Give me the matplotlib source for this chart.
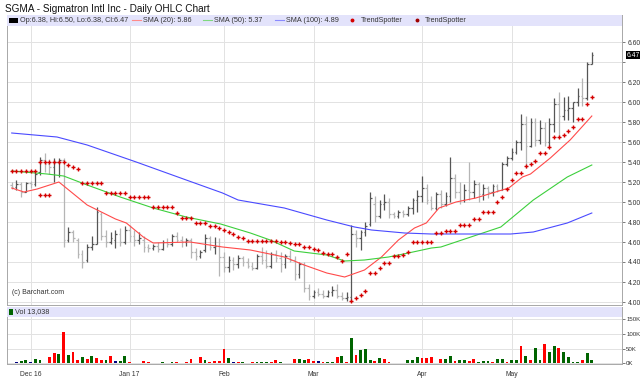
import matplotlib
matplotlib.use('Agg')
import matplotlib.pyplot as plt
from matplotlib.patches import Rectangle

plt.rcParams['font.family'] = ['Liberation Sans', 'DejaVu Sans']

# ---- data (index 0 = Nov 25 2016, one per trading day)
opens = [5.17, 5.15, 5.18, 5.10, 5.19, 5.18, 5.30, 5.42, 5.38, 5.35,
         5.40, 5.42, 4.62, 4.70, 4.62, 4.48, 4.42, 4.55, 4.58, 4.88,
         4.66, 4.60, 4.62, 4.68, 4.60, 4.72, 4.66, 4.62, 4.62, 4.55,
         4.54, 4.56, 4.53, 4.60, 4.58, 4.66, 4.62, 4.60, 4.62, 4.50,
         4.46, 4.52, 4.64, 4.55, 4.56, 4.45, 4.35, 4.42, 4.38, 4.44,
         4.40, 4.36, 4.34, 4.46, 4.42, 4.36, 4.48, 4.44, 4.38, 4.46,
         4.42, 4.28, 4.38, 4.14, 4.06, 4.10, 4.08, 4.06, 4.10, 4.12,
         4.06, 4.04, 4.05, 4.68, 4.64, 4.70, 4.78, 4.98, 4.86, 4.98,
         5.00, 4.88, 4.86, 4.90, 4.88, 4.94, 5.02, 5.06, 5.14, 5.02,
         4.94, 5.08, 4.98, 5.06, 5.24, 5.10, 5.02, 5.12, 5.10, 5.18,
         5.08, 5.14, 5.10, 5.16, 5.12, 5.38, 5.44, 5.50, 5.60, 5.78,
         5.56, 5.80, 5.62, 5.74, 5.60, 5.78, 5.98, 5.86, 5.92, 5.94,
         6.00, 6.06, 6.04, 6.38]
highs = [5.20, 5.22, 5.20, 5.20, 5.21, 5.30, 5.45, 5.49, 5.43, 5.44,
         5.44, 5.44, 4.75, 4.72, 4.64, 4.52, 4.58, 4.66, 4.95, 4.90,
         4.72, 4.70, 4.72, 4.74, 4.76, 4.77, 4.72, 4.70, 4.66, 4.58,
         4.58, 4.60, 4.62, 4.64, 4.68, 4.70, 4.66, 4.64, 4.64, 4.54,
         4.52, 4.68, 4.66, 4.65, 4.64, 4.50, 4.46, 4.45, 4.47, 4.46,
         4.44, 4.40, 4.48, 4.55, 4.52, 4.50, 4.52, 4.50, 4.48, 4.52,
         4.46, 4.40, 4.40, 4.18, 4.12, 4.14, 4.12, 4.12, 4.16, 4.18,
         4.10, 4.10, 4.77, 4.72, 4.72, 4.80, 5.10, 5.06, 5.02, 5.08,
         5.04, 4.90, 4.92, 4.92, 4.96, 5.04, 5.12, 5.26, 5.18, 5.06,
         5.10, 5.12, 5.10, 5.45, 5.28, 5.20, 5.18, 5.40, 5.22, 5.20,
         5.18, 5.16, 5.18, 5.18, 5.40, 5.46, 5.54, 5.62, 5.88, 5.86,
         5.84, 5.84, 5.82, 5.80, 5.84, 6.04, 6.10, 6.05, 6.06, 6.00,
         6.14, 6.24, 6.40, 6.50]
lows = [5.13, 5.12, 5.05, 5.10, 5.14, 5.16, 5.27, 5.30, 5.28, 5.20,
        5.25, 4.55, 4.60, 4.60, 4.44, 4.34, 4.40, 4.52, 4.58, 4.62,
        4.55, 4.58, 4.54, 4.56, 4.58, 4.60, 4.56, 4.58, 4.50, 4.50,
        4.52, 4.50, 4.52, 4.55, 4.56, 4.60, 4.55, 4.56, 4.44, 4.42,
        4.44, 4.50, 4.52, 4.48, 4.26, 4.30, 4.30, 4.32, 4.34, 4.36,
        4.34, 4.32, 4.33, 4.38, 4.34, 4.34, 4.40, 4.30, 4.34, 4.40,
        4.22, 4.24, 4.10, 4.02, 4.04, 4.06, 4.04, 4.05, 4.06, 4.04,
        4.02, 4.01, 4.00, 4.55, 4.52, 4.66, 4.76, 4.80, 4.84, 4.92,
        4.84, 4.84, 4.84, 4.85, 4.86, 4.88, 4.90, 5.00, 4.98, 4.92,
        4.92, 4.94, 4.96, 5.00, 5.04, 4.98, 5.00, 5.02, 5.04, 5.00,
        5.02, 5.04, 5.06, 5.10, 5.12, 5.36, 5.42, 5.48, 5.52, 5.34,
        5.55, 5.56, 5.58, 5.56, 5.56, 5.70, 5.64, 5.82, 5.82, 5.80,
        5.96, 5.96, 6.02, 6.38]
closes = [5.15, 5.18, 5.10, 5.19, 5.18, 5.28, 5.42, 5.38, 5.35, 5.40,
          5.42, 4.62, 4.70, 4.64, 4.48, 4.40, 4.55, 4.58, 4.90, 4.66,
          4.60, 4.64, 4.68, 4.60, 4.72, 4.66, 4.62, 4.64, 4.55, 4.54,
          4.56, 4.53, 4.60, 4.58, 4.66, 4.62, 4.60, 4.62, 4.50, 4.46,
          4.50, 4.64, 4.55, 4.56, 4.45, 4.35, 4.42, 4.38, 4.44, 4.40,
          4.36, 4.34, 4.46, 4.42, 4.36, 4.48, 4.44, 4.38, 4.46, 4.42,
          4.28, 4.38, 4.14, 4.06, 4.10, 4.08, 4.06, 4.10, 4.12, 4.06,
          4.04, 4.05, 4.68, 4.64, 4.70, 4.76, 5.04, 4.86, 4.98, 5.00,
          4.88, 4.86, 4.90, 4.88, 4.94, 5.02, 5.06, 5.14, 5.02, 4.94,
          5.08, 4.98, 5.06, 5.24, 5.10, 5.02, 5.12, 5.10, 5.18, 5.08,
          5.14, 5.10, 5.16, 5.12, 5.38, 5.44, 5.50, 5.60, 5.78, 5.56,
          5.80, 5.62, 5.74, 5.60, 5.78, 5.98, 5.86, 5.92, 5.94, 6.00,
          6.06, 6.04, 6.38, 6.47]

# volume (thousands) and day direction: 1 up, -1 down, 0 unchanged
volume = [2, 4, 8, 10, 4, 15, 12, 2, 23, 35, 32, 107, 28, 39, 10, 23, 16, 24, 18, 10,
          11, 24, 8, 9, 26, 6, 2, 2, 9, 6, 3, 1, 5, 2, 6, 4, 3, 4, 14, 2,
          22, 12, 5, 7, 8, 50, 18, 4, 5, 4, 3, 4, 5, 4, 4, 4, 10, 6, 2, 2,
          14, 16, 13, 16, 9, 7, 4, 4, 6, 22, 24, 6, 85, 27, 45, 48, 12, 9, 18, 14,
          6, 3, 3, 1, 10, 13, 22, 17, 18, 22, 1, 15, 14, 24, 8, 13, 12, 7, 15, 6,
          9, 9, 4, 15, 15, 5, 13, 12, 57, 25, 10, 51, 12, 64, 40, 57, 51, 38, 21, 6,
          5, 12, 36, 13]
direction = [-1, 0, 1, 1, 0, 1, 1, -1, -1, -1, 1, -1, 1, -1, -1, 1, -1, 1, -1, -1,
             1, -1, 0, 1, 1, -1, 1, -1, -1, -1, 1, -1, 1, 1, 1, -1, -1, -1, -1, 1,
             -1, 1, -1, -1, -1, -1, 1, 0, -1, 1, -1, -1, 1, 1, 1, -1, -1, 1, -1, 1,
             -1, 1, 1, -1, -1, 0, -1, 1, 1, -1, 1, -1, 1, -1, 1, 1, 1, -1, 1, -1,
             -1, 1, 1, -1, 1, 1, 1, -1, -1, -1, 1, -1, 1, 1, -1, 1, 1, -1, -1, 1,
             1, 1, -1, 1, 1, -1, 1, 1, -1, 1, -1, 1, 1, -1, 1, 1, -1, 1, 1, 1,
             1, -1, 1, 1]

# moving averages, read at knots (bar index, price)
sma20_x = [0, 2.6, 5.4, 10, 16, 22, 24.3, 27.9, 30, 37.8, 44.7, 50.6, 57.8, 62, 66.8,
           70.6, 74.8, 78.4, 82, 85.4, 87.9, 90.6, 94.2, 98.4, 102.6, 105.4, 108.3,
           110, 114.2, 118.4, 123]
sma20_y = [5.14, 5.10, 5.13, 5.20, 4.97, 4.83, 4.79, 4.65, 4.59, 4.60, 4.55, 4.52, 4.45,
           4.37, 4.29, 4.25, 4.32, 4.45, 4.62, 4.74, 4.79, 4.94, 5.00, 5.04, 5.10, 5.14,
           5.25, 5.28, 5.44, 5.62, 5.86]
sma50_x = [0, 7.5, 11, 16, 23, 30, 37, 44.3, 50.6, 54.8, 59.9, 66.8, 70.6, 74.8, 79.9,
           84.1, 89, 91, 103.7, 110.6, 117.8, 123]
sma50_y = [5.31, 5.28, 5.26, 5.17, 5.05, 4.94, 4.85, 4.78, 4.69, 4.62, 4.51, 4.47, 4.41,
           4.42, 4.45, 4.49, 4.54, 4.55, 4.75, 5.02, 5.25, 5.37]
sma100_x = [0, 9.6, 16, 26.4, 37, 44.7, 48, 57.8, 66.8, 72.7, 76.3, 83.3, 89, 103.7,
            105.8, 110.6, 117.8, 123]
sma100_y = [5.69, 5.65, 5.57, 5.40, 5.22, 5.09, 5.02, 4.94, 4.82, 4.75, 4.72, 4.69, 4.68,
            4.68, 4.68, 4.70, 4.79, 4.89]

# TrendSpotter signals (bar index, level)
ts_a_x = list(range(0, 72))
ts_a_y = [5.31, 5.31, 5.31, 5.31, 5.31, 5.31, 5.40, 5.40, 5.40, 5.40, 5.40, 5.40,
          5.37, 5.35, 5.33, 5.19, 5.19, 5.19, 5.19, 5.19, 5.09, 5.09, 5.09, 5.09, 5.09,
          5.05, 5.05, 5.05, 5.05, 5.05, 4.95, 4.95, 4.95, 4.95, 4.95, 4.89, 4.84, 4.84,
          4.84, 4.79, 4.79, 4.79, 4.76, 4.76, 4.74, 4.72, 4.70, 4.68, 4.65, 4.64, 4.61,
          4.61, 4.61, 4.61, 4.61, 4.61, 4.61, 4.60, 4.60, 4.59, 4.58, 4.58, 4.55, 4.55,
          4.53, 4.52, 4.49, 4.48, 4.48, 4.45, 4.41, 4.48]
ts_b_x = [6, 7, 8] + list(range(72, 124))
ts_b_y = [5.07, 5.07, 5.07,
          4.01, 4.04, 4.07, 4.11, 4.29, 4.29, 4.34, 4.39, 4.39, 4.46, 4.46, 4.47, 4.50,
          4.60, 4.60, 4.60, 4.60, 4.60, 4.69, 4.69, 4.71, 4.71, 4.71, 4.77, 4.77, 4.77,
          4.83, 4.83, 4.90, 4.90, 4.90, 5.00, 5.05, 5.13, 5.22, 5.29, 5.29, 5.36, 5.38,
          5.41, 5.49, 5.49, 5.55, 5.65, 5.65, 5.67, 5.71, 5.75, 5.83, 5.83, 5.98, 6.05]

month_idx = [4, 25, 45, 64, 87, 106]
month_labels = ['Dec 16', 'Jan 17', 'Feb', 'Mar', 'Apr', 'May']
price_ticks = [4.00, 4.20, 4.40, 4.60, 4.80, 5.00, 5.20, 5.40, 5.60, 5.80, 6.00, 6.20, 6.40, 6.60]
price_labels = ['4.00', '4.20', '4.40', '4.60', '4.80', '5.00', '5.20', '5.40', '5.60',
                '5.80', '6.00', '6.20', '', '6.60']
vol_ticks = [0, 50, 100, 150]
vol_labels = ['0K', '50K', '100K', '150K']

W, H = 640, 389
n = len(closes)
xlim = (-1.0, 129.4)
band = '#e3e3fb'
gridc = '#e2e2e2'
fs = 4.9

fig = plt.figure(figsize=(W / 100, H / 100), dpi=100)
ax = fig.add_axes([7 / W, 1 - 305 / H, 615 / W, 290 / H])
axv = fig.add_axes([7 / W, 1 - 364 / H, 615 / W, 57 / H])

fig.text(5 / W, 1 - 9 / H, 'SGMA - Sigmatron Intl Inc - Daily OHLC Chart',
         fontsize=7.2, va='center', ha='left', color='#111111')

# ---- price panel
for i in range(n):
    c = '#555555' if closes[i] >= opens[i] else '#b5b5b5'
    ax.vlines(i, lows[i], highs[i], color=c, lw=0.9, zorder=3)
    ax.hlines(opens[i], i - 0.35, i, color=c, lw=0.9, zorder=3)
    ax.hlines(closes[i], i, i + 0.35, color=c, lw=0.9, zorder=3)

ax.plot(sma20_x, sma20_y, color='#ff4a4a', lw=0.8, zorder=4)
ax.plot(sma50_x, sma50_y, color='#3ccf3c', lw=0.8, zorder=4)
ax.plot(sma100_x, sma100_y, color='#4a4aff', lw=0.8, zorder=4)
ax.plot(ts_a_x, ts_a_y, ls='none', marker='+', ms=2.6, mew=1.0, color='#d40000', zorder=5)
ax.plot(ts_b_x, ts_b_y, ls='none', marker='+', ms=2.6, mew=1.0, color='#d40000', zorder=5)

ax.set_xlim(*xlim)
ax.set_ylim(3.97, 6.87)
ax.set_yticks(price_ticks)
ax.set_yticklabels(price_labels)
ax.set_xticks(month_idx)
ax.set_xticklabels([])
ax.yaxis.tick_right()
ax.tick_params(axis='y', length=2.5, width=0.6, color='#666666', labelsize=fs,
               labelcolor='#333333', pad=1.5)
ax.tick_params(axis='x', length=0)
ax.grid(True, color=gridc, lw=0.7, zorder=0)
for s in ax.spines.values():
    s.set_color('#a8a8a8'); s.set_linewidth(0.7)

# legend band
ax.add_patch(Rectangle((0, 1 - 10.5 / 290), 1, 10.5 / 290, transform=ax.transAxes,
                       facecolor=band, edgecolor='none', zorder=6))
ly = 1 - 5.3 / 290
def lx(px):
    return (px - 7) / 615
ax.add_patch(Rectangle((lx(8.5), ly - 0.008), 9 / 615, 0.016, transform=ax.transAxes,
                       facecolor='black', edgecolor='none', zorder=7))
items = [(19.5, 'Op:6.38, Hi:6.50, Lo:6.38, Cl:6.47'), (143, 'SMA (20): 5.86'),
         (214, 'SMA (50): 5.37'), (286, 'SMA (100): 4.89'), (361, 'TrendSpotter'),
         (425, 'TrendSpotter')]
for px, t in items:
    ax.text(lx(px), ly, t, transform=ax.transAxes, fontsize=5.2, va='center',
            ha='left', color='#333333', zorder=7)
for (a, b), c in zip([(132, 141), (203, 212), (275, 284)], ['#ff8a8a', '#7fd87f', '#8a8aff']):
    ax.plot([lx(a), lx(b)], [ly, ly], transform=ax.transAxes, color=c, lw=0.8, zorder=7)
for px, c in [(352, '#d40000'), (417, '#a00000')]:
    ax.plot([lx(px)], [ly], transform=ax.transAxes, marker='o', ms=1.8, color=c, zorder=7)

ax.text(lx(12), 1 - (293 - 15) / 290, '(c) Barchart.com', transform=ax.transAxes,
        fontsize=5.0, va='center', ha='left', color='#333333', zorder=7)
ax.text(1 + 5 / 615, closes[-1], f'{closes[-1]:.2f}', transform=ax.get_yaxis_transform(),
        fontsize=fs, va='center', ha='left', color='white', zorder=8, clip_on=False,
        bbox=dict(boxstyle='square,pad=0.12', facecolor='black', edgecolor='none'))

# ---- volume panel
vcol = {1: '#006400', -1: '#ff0000', 0: '#000080'}
axv.bar(range(n), volume, width=0.6, color=[vcol[d] for d in direction], zorder=3)
axv.set_xlim(*xlim)
axv.set_ylim(-2, 190)
axv.set_yticks(vol_ticks)
axv.set_yticklabels(vol_labels)
axv.yaxis.tick_right()
axv.set_xticks(month_idx)
axv.set_xticklabels(month_labels)
axv.tick_params(axis='y', length=2, width=0.6, color='#666666', labelsize=4.4,
                labelcolor='#333333', pad=1)
axv.tick_params(axis='x', length=0, labelsize=fs, labelcolor='#333333', pad=5)
axv.grid(True, color=gridc, lw=0.7, zorder=0)
for s in axv.spines.values():
    s.set_color('#a8a8a8'); s.set_linewidth(0.7)
axv.add_patch(Rectangle((0, 1 - 10 / 57), 1, 10 / 57, transform=axv.transAxes,
                        facecolor=band, edgecolor='none', zorder=6))
vy = 1 - 5 / 57
axv.add_patch(Rectangle((lx(9), vy - 0.06), 4 / 615, 0.12, transform=axv.transAxes,
                        facecolor='#006400', edgecolor='none', zorder=7))
axv.text(lx(15), vy, 'Vol 13,038', transform=axv.transAxes, fontsize=5.2,
         va='center', ha='left', color='#333333', zorder=7)

fig.savefig('out.png', dpi=100)
